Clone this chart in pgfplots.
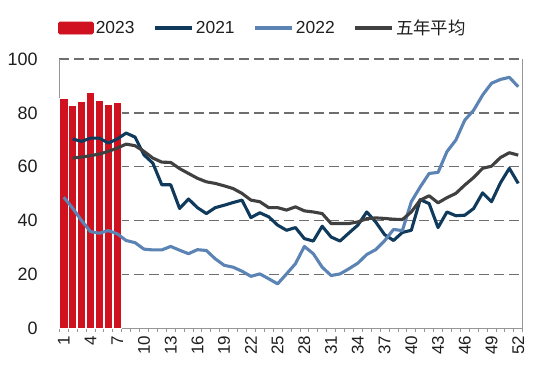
\documentclass[border=0pt]{standalone}
\usepackage{fontspec}
\setmainfont{Liberation Sans}
\newfontfamily\cjk{Noto Sans CJK SC}
\usepackage{pgfplots}
\pgfplotsset{compat=1.18}
\usepackage{pgfplotstable}
\definecolor{red23}{RGB}{207,17,32}
\definecolor{c2021}{RGB}{16,58,92}
\definecolor{c2022}{RGB}{91,131,180}
\definecolor{cavg}{RGB}{64,64,64}
\definecolor{axisgray}{RGB}{150,150,150}
\definecolor{gridgray}{RGB}{110,110,110}
\definecolor{txt}{RGB}{30,30,30}

\pgfplotstableread{
w v
1 85.5
2 82.7
3 84.3
4 87.6
5 84.6
6 83.0
7 83.9
}\tbar

\pgfplotstableread{
w v
2 70.3
3 69.4
4 70.6
5 70.6
6 68.8
7 70.3
8 72.5
9 71.0
10 64.4
11 61.3
12 53.3
13 53.3
14 44.5
15 48.0
16 44.8
17 42.6
18 44.8
19 45.7
20 46.7
21 47.6
22 41.1
23 42.9
24 41.4
25 38.3
26 36.4
27 37.4
28 33.3
29 32.4
30 37.9
31 33.9
32 32.4
33 35.4
34 38.3
35 43.2
36 39.5
37 34.8
38 32.6
39 35.6
40 36.4
41 47.8
42 46.3
43 37.4
44 43.2
45 41.8
46 42.0
47 44.5
48 50.3
49 47.0
50 54.0
51 59.4
52 53.8
}\tone

\pgfplotstableread{
w v
1 48.7
2 44.6
3 40.0
4 35.9
5 35.3
6 36.3
7 35.1
8 32.6
9 31.8
10 29.4
11 29.1
12 29.1
13 30.4
14 29.0
15 27.7
16 29.2
17 28.9
18 25.8
19 23.4
20 22.7
21 21.2
22 19.3
23 20.2
24 18.4
25 16.5
26 20.2
27 24.0
28 30.4
29 27.7
30 22.7
31 19.6
32 20.2
33 22.1
34 24.2
35 27.4
36 29.2
37 32.5
38 36.7
39 36.3
40 47.0
41 52.5
42 57.5
43 57.9
44 65.6
45 69.9
46 77.3
47 81.0
48 86.6
49 91.0
50 92.4
51 93.2
52 89.7
}\ttwo

\pgfplotstableread{
w v
2 63.2
3 63.6
4 64.1
5 64.7
6 65.7
7 66.9
8 68.4
9 67.8
10 65.7
11 63.2
12 61.7
13 61.6
14 59.3
15 57.5
16 55.7
17 54.4
18 53.8
19 52.9
20 51.9
21 50.1
22 47.6
23 47.0
24 44.8
25 44.8
26 43.9
27 45.1
28 43.6
29 43.2
30 42.6
31 38.9
32 38.9
33 38.9
34 39.5
35 40.7
36 41.0
37 40.8
38 40.5
39 40.4
40 43.2
41 47.6
42 49.2
43 46.6
44 48.5
45 50.1
46 53.2
47 56.0
48 59.4
49 60.2
50 63.4
51 65.2
52 64.3
}\tavg

\begin{document}
\begin{tikzpicture}
\begin{axis}[
  name=ax,
  scale only axis,
  width=463.4bp, height=269.3bp,
  xmin=0.5, xmax=52.5, ymin=0, ymax=100,
  axis x line*=bottom, axis y line*=left,
  axis line style={draw=axisgray, line width=1bp, -},
  xtick={1,4,...,52},
  minor xtick={0.5,1.5,...,52.5},
  major x tick style={draw=none},
  minor x tick style={draw=axisgray, line width=0.8bp},
  minor tick length=4bp,
  ytick={0,20,...,100},
  major y tick style={draw=none},
  tick align=outside,
  ymajorgrids,
  grid style={draw=gridgray, line width=1.3bp, dash pattern=on 10bp off 5bp},
  /pgf/number format/assume math mode=true,
  x tick label style={rotate=90, anchor=east, font=\fontsize{17}{17}\selectfont, text=txt},
  y tick label style={font=\fontsize{18}{18}\selectfont, text=txt, xshift=-14bp},
  legend style={at={(-0.003,1.115)}, anchor=west, draw=none, fill=none, inner sep=0pt,
    legend columns=4, font=\fontsize{17.5}{17.5}\selectfont, text=txt,
    /tikz/every even column/.append style={column sep=17bp}},
  clip=false,
]
\addplot[ybar, bar width=8.3bp, fill=red23, draw=white, line width=0.7bp,
  legend image code/.code={\fill[red23, rounded corners=1.5bp] (0bp,-6bp) rectangle (35bp,6bp);}]
  table[x=w, y=v] {\tbar};
\addlegendentry{2023}
\addplot[c2021, line width=3.1bp, line join=round, no marks,
  legend image code/.code={\draw[c2021, line width=3.3bp] (0bp,0bp) -- (37bp,0bp);}]
  table[x=w, y=v] {\tone};
\addlegendentry{2021}
\addplot[c2022, line width=3.1bp, line join=round, no marks,
  legend image code/.code={\draw[c2022, line width=3.3bp] (0bp,0bp) -- (37bp,0bp);}]
  table[x=w, y=v] {\ttwo};
\addlegendentry{2022}
\addplot[cavg, line width=3.1bp, line join=round, no marks,
  legend image code/.code={\draw[cavg, line width=3.3bp] (0bp,0bp) -- (37bp,0bp);}]
  table[x=w, y=v] {\tavg};
\addlegendentry{{\cjk 五年平均}}
\draw[axisgray, line width=1bp] (rel axis cs:1,0) -- (rel axis cs:1,1);
\end{axis}
\pgfresetboundingbox
\path[use as bounding box] ([shift={(-59.3bp,-46.7bp)}]ax.south west) rectangle ([shift={(27.3bp,59bp)}]ax.north east);
\end{tikzpicture}
\end{document}
